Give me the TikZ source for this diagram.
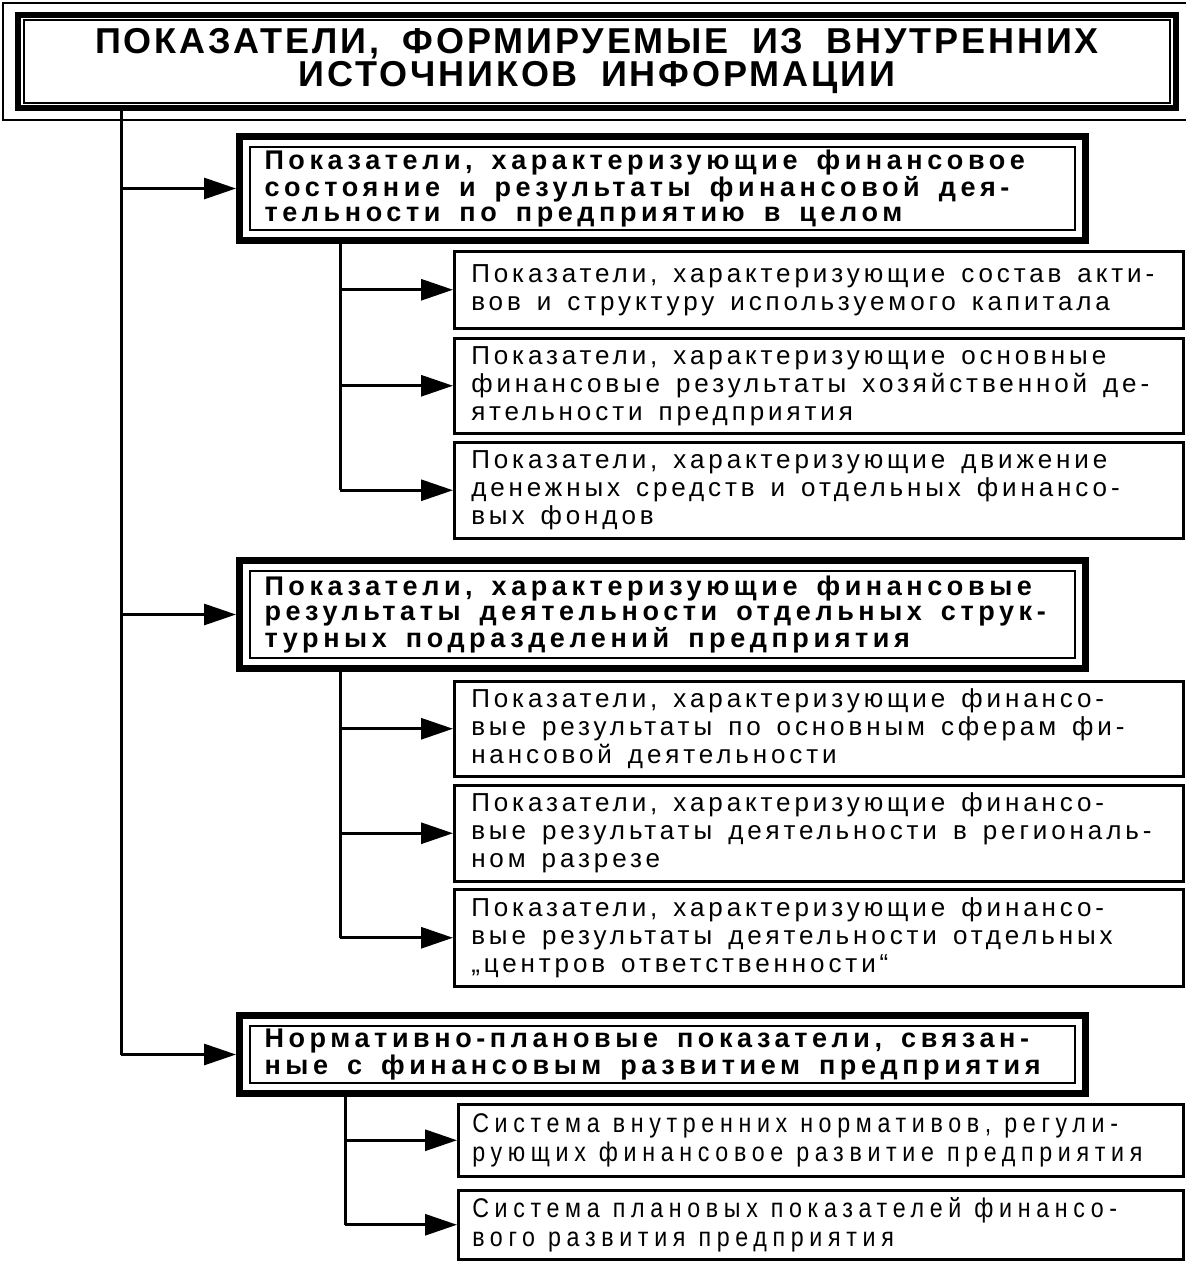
\documentclass[tikz,border=0pt]{standalone}
\usepackage{fontspec}
\setmainfont{Liberation Sans}
\newfontfamily\leaffont[LetterSpace=15]{Liberation Sans}
\newfontfamily\groupfont[LetterSpace=17]{Liberation Sans}
\newfontfamily\narrowfont[FakeStretch=0.86,LetterSpace=21]{Liberation Sans}
\newfontfamily\capsfont[LetterSpace=8,WordSpace=1.8]{Liberation Sans}
\newcommand\widespace[1]{\spaceskip=#1\relax}
\usetikzlibrary{arrows.meta}

\begin{document}
\begin{tikzpicture}[x=1pt, y=-1pt,
    head/.style={draw, line width=6pt, anchor=north west, align=center, inner sep=0pt,
      font=\capsfont\bfseries\fontsize{36}{33}\selectfont},
    group/.style={draw, line width=7pt, anchor=north west, align=left, inner xsep=25pt, inner ysep=0pt,
      text width=796pt, font=\groupfont\bfseries\fontsize{27}{25}\selectfont,
      execute at begin node={\widespace{19pt}}},
    leaf/.style={draw, line width=2.5pt, anchor=north west, align=left, inner xsep=17pt, inner ysep=0pt,
      text width=695pt, font=\leaffont\fontsize{26}{28}\selectfont,
      execute at begin node={\widespace{16pt}}},
    narrow/.style={inner xsep=14pt, text width=697pt, font=\narrowfont\fontsize{27}{29}\selectfont,
      execute at begin node={\widespace{13pt}}},
    link/.style={line width=3pt, -{Triangle[length=32pt,width=21pt]}},
    trunk/.style={line width=3pt},
    frame/.style={line width=1.2pt}]
  \useasboundingbox (0,0) rectangle (1186,1264);

  % title
  \node[head, minimum width=1158pt, minimum height=93pt] (title) at (15,12)
    {ПОКАЗАТЕЛИ, ФОРМИРУЕМЫЕ ИЗ ВНУТРЕННИХ\\ИСТОЧНИКОВ ИНФОРМАЦИИ};
  \draw[frame] ([shift={(9,8)}]title.north west) rectangle ([shift={(-9,-8)}]title.south east);
  \draw[frame] ([shift={(-12,-9)}]title.north west) rectangle ([shift={(10,9)}]title.south east);

  % groups
  \node[group, minimum height=104pt] (g1) at (236,133)
    {Показатели, характеризующие финансовое\\состояние и результаты финансовой дея-\\тельности по предприятию в целом};
  \node[group, minimum height=108pt] (g2) at (236,557)
    {Показатели, характеризующие финансовые\\результаты деятельности отдельных струк-\\турных подразделений предприятия};
  \node[group, minimum height=78pt] (g3) at (236,1012)
    {Нормативно-плановые показатели, связан-\\ные с финансовым развитием предприятия};
  \foreach \g in {g1,g2,g3}
    \draw[frame] ([shift={(14,14)}]\g.north west) rectangle ([shift={(-14,-14)}]\g.south east);

  % leaves
  \node[leaf, minimum height=77pt] (l1) at (453,250)
    {Показатели, характеризующие состав акти-\\вов и структуру используемого капитала};
  \node[leaf, minimum height=95pt] (l2) at (453,337)
    {Показатели, характеризующие основные\\финансовые результаты хозяйственной де-\\ятельности предприятия};
  \node[leaf, minimum height=96pt] (l3) at (453,441)
    {Показатели, характеризующие движение\\денежных средств и отдельных финансо-\\вых фондов};
  \node[leaf, minimum height=95pt] (l4) at (453,680)
    {Показатели, характеризующие финансо-\\вые результаты по основным сферам фи-\\нансовой деятельности};
  \node[leaf, minimum height=96pt] (l5) at (453,784)
    {Показатели, характеризующие финансо-\\вые результаты деятельности в региональ-\\ном разрезе};
  \node[leaf, minimum height=97pt] (l6) at (453,888)
    {Показатели, характеризующие финансо-\\вые результаты деятельности отдельных\\„центров ответственности“};
  \node[leaf, narrow, minimum height=72pt] (l7) at (457,1103)
    {Система внутренних нормативов, регули-\\рующих финансовое развитие предприятия};
  \node[leaf, narrow, minimum height=69pt] (l8) at (457,1189)
    {Система плановых показателей финансо-\\вого развития предприятия};

  % connectors
  \coordinate (t0) at (121,0);
  \coordinate (s1) at (340,0);
  \coordinate (s3) at (345,0);

  \draw[trunk] (title.south -| t0) -- (g3.west -| t0);
  \draw[link] (g1.west -| t0) -- (g1.west);
  \draw[link] (g2.west -| t0) -- (g2.west);
  \draw[link] (g3.west -| t0) -- (g3.west);

  \draw[trunk] (g1.south -| s1) -- (l3.west -| s1);
  \draw[link] (l1.west -| s1) -- (l1.west);
  \draw[link] (l2.west -| s1) -- (l2.west);
  \draw[link] (l3.west -| s1) -- (l3.west);

  \draw[trunk] (g2.south -| s1) -- (l6.west -| s1);
  \draw[link] (l4.west -| s1) -- (l4.west);
  \draw[link] (l5.west -| s1) -- (l5.west);
  \draw[link] (l6.west -| s1) -- (l6.west);

  \draw[trunk] (g3.south -| s3) -- (l8.west -| s3);
  \draw[link] (l7.west -| s3) -- (l7.west);
  \draw[link] (l8.west -| s3) -- (l8.west);
\end{tikzpicture}
\end{document}
